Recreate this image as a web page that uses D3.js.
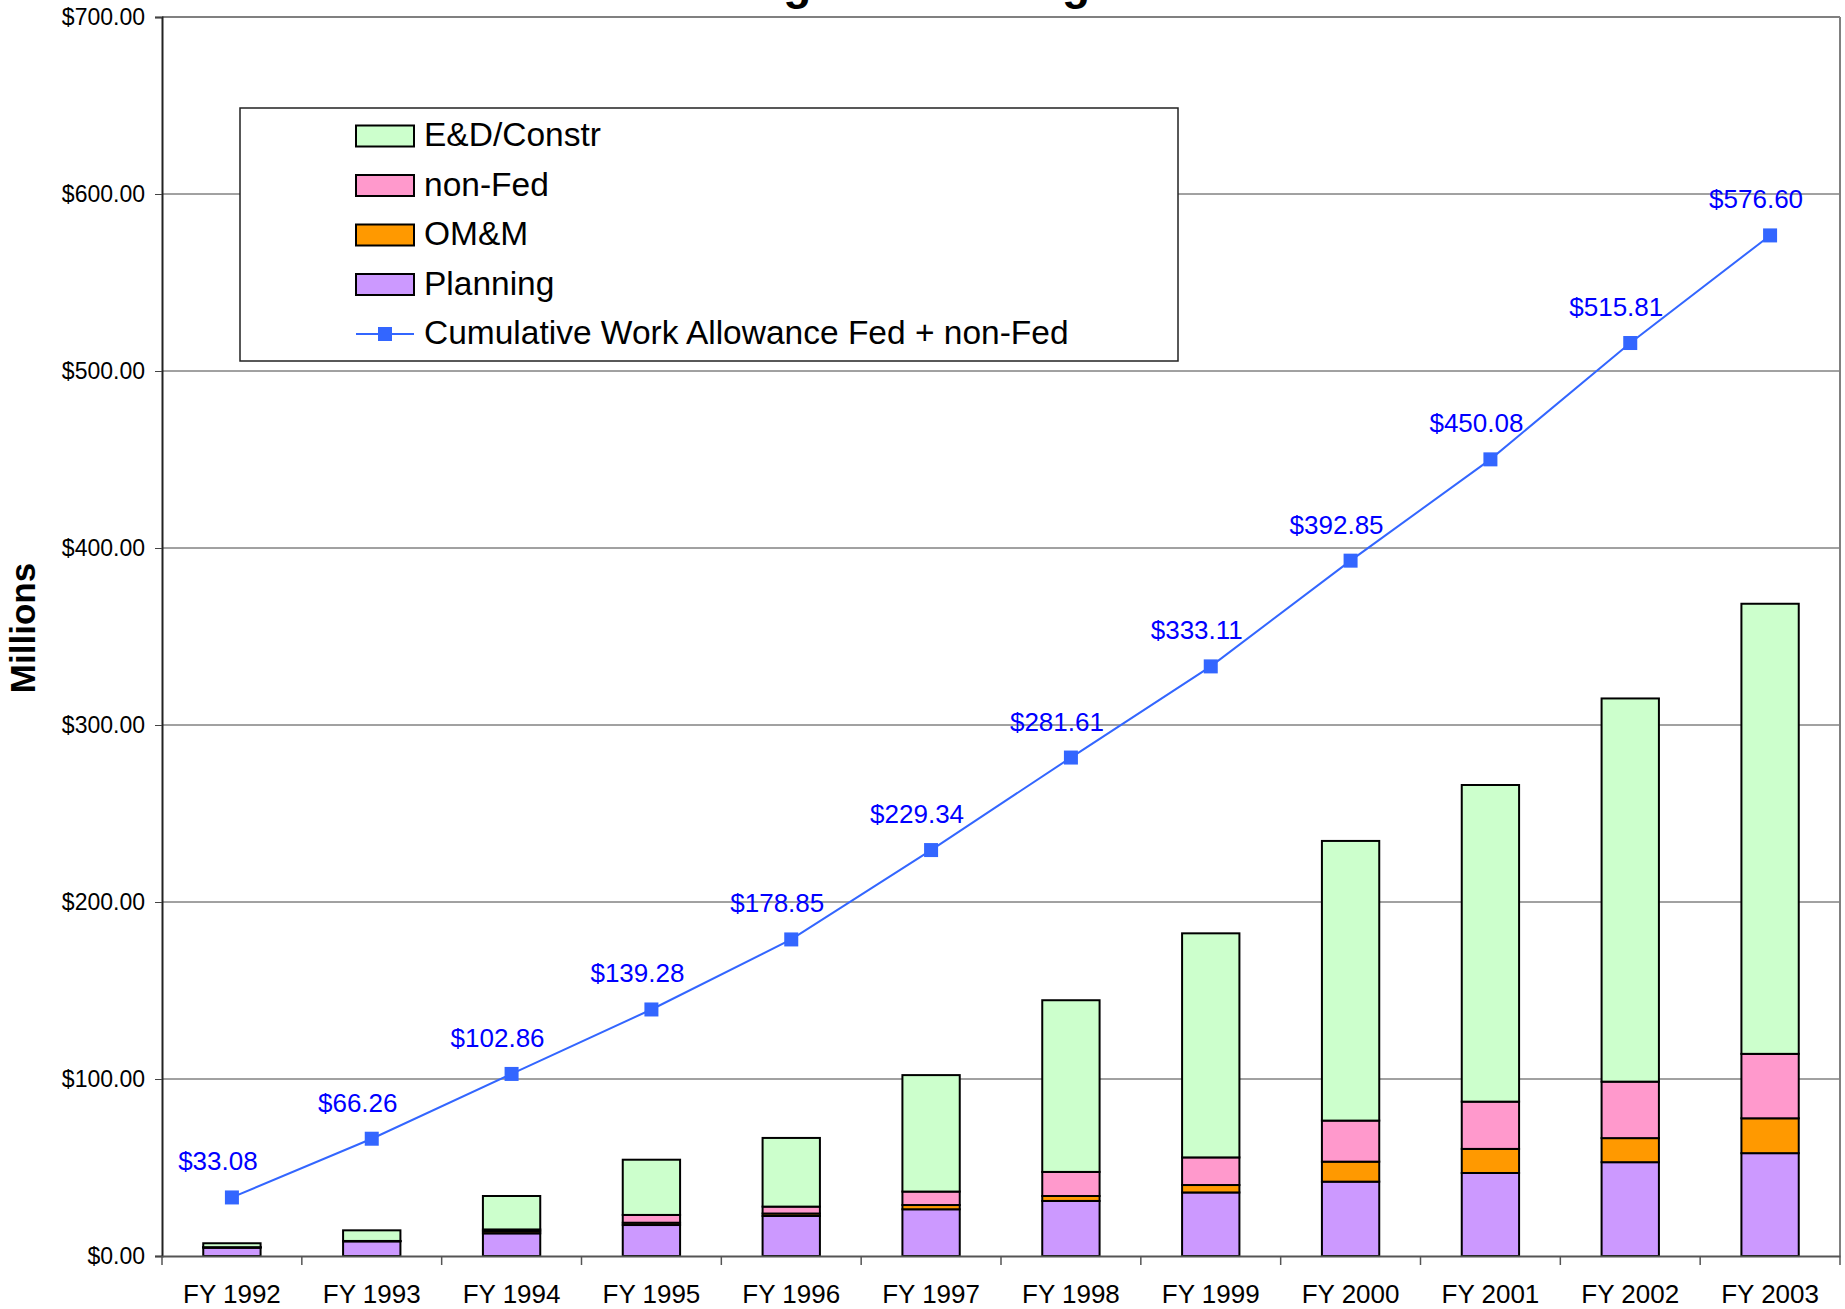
<!DOCTYPE html>
<html>
<head>
<meta charset="utf-8">
<script src="https://cdn.jsdelivr.net/npm/d3@7"></script>
<style>
  body { margin: 0; background: #fff; }
  svg { display: block; font-family: "Liberation Sans", Arial, sans-serif; }
</style>
</head>
<body>
<svg id="chart" width="1845" height="1309"></svg>
<script>
// Chart data (millions of dollars)
var years = ["FY 1992", "FY 1993", "FY 1994", "FY 1995", "FY 1996", "FY 1997",
             "FY 1998", "FY 1999", "FY 2000", "FY 2001", "FY 2002", "FY 2003"];

var planning = [4.7, 8.3, 12.8, 17.5, 22.6, 26.4, 31.1, 35.9, 42.0, 46.9, 53.0, 58.1];
var omm      = [0.2, 0.1, 1.2, 1.3, 1.4, 2.4, 2.8, 4.2, 11.3, 13.6, 13.6, 19.7];
var nonFed   = [0.1, 0.1, 1.0, 4.4, 3.9, 7.6, 13.6, 15.6, 23.2, 26.7, 31.9, 36.4];
var edConstr = [2.2, 6.0, 18.9, 31.2, 38.8, 65.8, 97.0, 126.6, 158.0, 178.9, 216.5, 254.3];

var cumulative = [33.08, 66.26, 102.86, 139.28, 178.85, 229.34,
                  281.61, 333.11, 392.85, 450.08, 515.81, 576.60];

var yTicks = [0, 100, 200, 300, 400, 500, 600, 700];

var seriesNames = ["Planning", "OM&M", "non-Fed", "E&D/Constr"];
var seriesColors = {"Planning": "#CC99FF", "OM&M": "#FF9900", "non-Fed": "#FF99CC", "E&D/Constr": "#CCFFCC"};
var lineName = "Cumulative Work Allowance Fed + non-Fed";
var lineColor = "#3366FF";

// build rows for d3.stack
var rows = years.map(function(y, i) {
    return {year: y, "Planning": planning[i], "OM&M": omm[i], "non-Fed": nonFed[i], "E&D/Constr": edConstr[i]};
});

var svg = d3.select("#chart");

var plotLeft = 162, plotRight = 1840, plotTop = 17, plotBottom = 1256;

var x = d3.scaleBand().domain(years).range([plotLeft, plotRight]);
var y = d3.scaleLinear().domain([0, 700]).range([plotBottom, plotTop]);

var barW = x.bandwidth() * 0.41;

// title (sits above the picture, only descenders show)
svg.append("text")
    .attr("x", 975)
    .attr("y", -1)
    .attr("text-anchor", "middle")
    .style("font-size", "46px")
    .style("font-weight", "bold")
    .text("Program Funding Status");

/**** gridlines ****/
svg.append("g")
    .selectAll("line")
    .data(yTicks.filter(function(d) { return d > 0 && d < 700; }))
    .enter()
    .append("line")
    .attr("x1", plotLeft).attr("x2", plotRight)
    .attr("y1", function(d) { return y(d); })
    .attr("y2", function(d) { return y(d); })
    .attr("stroke", "#444")
    .attr("stroke-width", 1);

// plot border top and right
svg.append("line")
    .attr("x1", plotLeft).attr("x2", plotRight).attr("y1", y(700)).attr("y2", y(700))
    .attr("stroke", "#808080").attr("stroke-width", 2);
svg.append("line")
    .attr("x1", plotRight).attr("x2", plotRight).attr("y1", y(700)).attr("y2", plotBottom)
    .attr("stroke", "#808080").attr("stroke-width", 2);

/**** stacked bars ****/
var stacked = d3.stack().keys(seriesNames)(rows);

svg.append("g")
    .selectAll("g")
    .data(stacked)
    .enter()
    .append("g")
    .attr("fill", function(d) { return seriesColors[d.key]; })
    .selectAll("rect")
    .data(function(d) { return d; })
    .enter()
    .append("rect")
    .attr("x", function(d) { return x(d.data.year) + (x.bandwidth() - barW) / 2; })
    .attr("y", function(d) { return y(d[1]); })
    .attr("width", barW)
    .attr("height", function(d) { return y(d[0]) - y(d[1]); })
    .attr("stroke", "#000")
    .attr("stroke-width", 2);

/**** Y Left Axis ****/
var yAxis = d3.axisLeft(y)
    .tickValues(yTicks)
    .tickFormat(function(d) { return "$" + d.toFixed(2); })
    .tickSize(7)
    .tickPadding(10);

var yg = svg.append("g")
    .attr("transform", "translate(" + plotLeft + ",0)")
    .call(yAxis);
yg.select(".domain").attr("stroke", "#222").attr("stroke-width", 2);
yg.selectAll(".tick line").attr("stroke", "#444");
yg.selectAll("text").style("font-size", "23px").attr("fill", "#000");

svg.append("text")
    .attr("transform", "translate(35,628) rotate(-90)")
    .attr("text-anchor", "middle")
    .style("font-size", "35px")
    .style("font-weight", "bold")
    .text("Millions");

/**** X Bottom Axis ****/
var xAxis = d3.axisBottom(x).tickSize(0).tickPadding(29);
var xg = svg.append("g")
    .attr("transform", "translate(0," + plotBottom + ")")
    .call(xAxis);
xg.select(".domain").attr("stroke", "#555").attr("stroke-width", 2);
xg.selectAll("text").style("font-size", "26px").attr("fill", "#000");

// category separator ticks
svg.append("g")
    .selectAll("line")
    .data(years.concat(["end"]))
    .enter()
    .append("line")
    .attr("x1", function(d) { return d === "end" ? plotRight : x(d); })
    .attr("x2", function(d) { return d === "end" ? plotRight : x(d); })
    .attr("y1", plotBottom)
    .attr("y2", plotBottom + 9)
    .attr("stroke", "#555")
    .attr("stroke-width", 1.5);

/**** Cumulative line ****/
var cx = function(i) { return x(years[i]) + x.bandwidth() / 2; };

var line = d3.line()
    .x(function(d, i) { return cx(i); })
    .y(function(d) { return y(d); });

svg.append("path")
    .datum(cumulative)
    .attr("d", line)
    .attr("fill", "none")
    .attr("stroke", lineColor)
    .attr("stroke-width", 2);

svg.append("g")
    .selectAll("rect")
    .data(cumulative)
    .enter()
    .append("rect")
    .attr("x", function(d, i) { return cx(i) - 7; })
    .attr("y", function(d) { return y(d) - 7; })
    .attr("width", 14)
    .attr("height", 14)
    .attr("fill", lineColor);

svg.append("g")
    .selectAll("text")
    .data(cumulative)
    .enter()
    .append("text")
    .attr("x", function(d, i) { return cx(i) - 14; })
    .attr("y", function(d) { return y(d) - 27; })
    .attr("text-anchor", "middle")
    .attr("fill", "#0000FF")
    .style("font-size", "26px")
    .text(function(d) { return "$" + d.toFixed(2); });

/**** Legend ****/
var legend = svg.append("g");
legend.append("rect")
    .attr("x", 240).attr("y", 108)
    .attr("width", 938).attr("height", 253)
    .attr("fill", "#fff")
    .attr("stroke", "#222")
    .attr("stroke-width", 1.5);

var legendItems = ["E&D/Constr", "non-Fed", "OM&M", "Planning", lineName];

var item = legend.selectAll(".item")
    .data(legendItems)
    .enter()
    .append("g")
    .attr("class", "item")
    .attr("transform", function(d, i) { return "translate(356," + (136 + i * 49.5) + ")"; });

item.filter(function(d) { return d !== lineName; })
    .append("rect")
    .attr("x", 0).attr("y", -10.5)
    .attr("width", 58).attr("height", 21)
    .attr("fill", function(d) { return seriesColors[d]; })
    .attr("stroke", "#000")
    .attr("stroke-width", 2);

var lineItem = item.filter(function(d) { return d === lineName; });
lineItem.append("line")
    .attr("x1", 0).attr("x2", 58).attr("y1", 0).attr("y2", 0)
    .attr("stroke", lineColor).attr("stroke-width", 2);
lineItem.append("rect")
    .attr("x", 22).attr("y", -7).attr("width", 14).attr("height", 14)
    .attr("fill", lineColor);

item.append("text")
    .attr("x", 68)
    .attr("y", 10)
    .style("font-size", "33.5px")
    .text(function(d) { return d; });
</script>
</body>
</html>
